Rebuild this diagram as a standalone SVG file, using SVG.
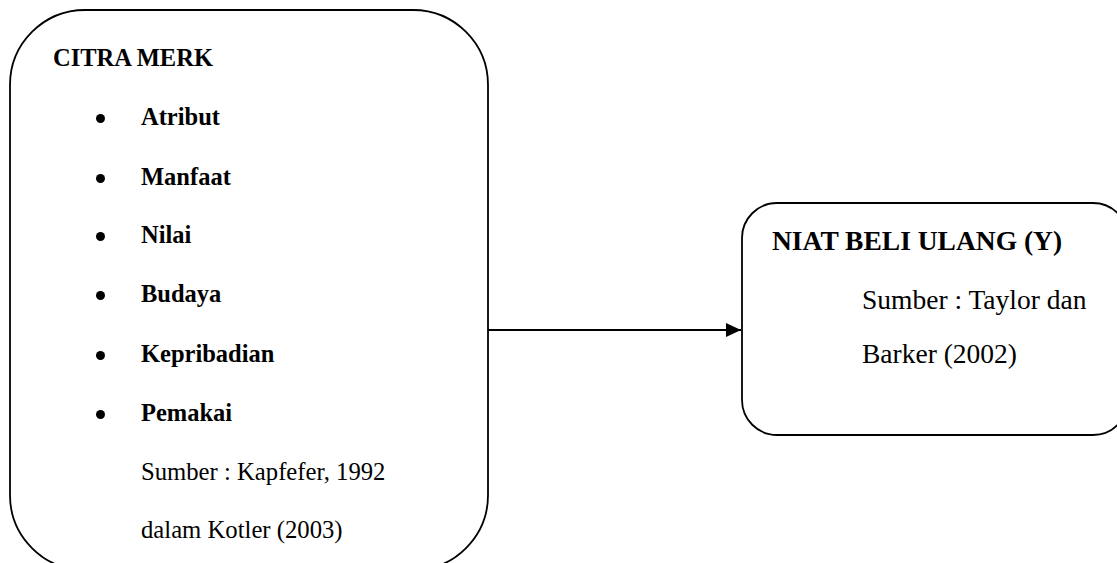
<svg xmlns="http://www.w3.org/2000/svg" width="1117" height="563" viewBox="0 0 1117 563">
<style>
.box{fill:#fff;stroke:#000;stroke-width:1.8}
.b{font-family:"Liberation Serif","Times New Roman",serif;font-weight:bold;fill:#000}
.r{font-family:"Liberation Serif","Times New Roman",serif;fill:#000}
.l{font-size:24.5px}
.rt{font-size:27.5px}
.conn{stroke:#000;stroke-width:1.8;fill:none}
</style>
<defs>
<marker id="arr" markerUnits="userSpaceOnUse" markerWidth="16" markerHeight="14" refX="15" refY="7" orient="auto">
<path d="M0,0 L15,7 L0,14 Z" fill="#000"/>
</marker>
</defs>
<rect width="1117" height="563" fill="#fff"/>
<g id="connectors">
<line class="conn" x1="488" y1="330" x2="741" y2="330" marker-end="url(#arr)"/>
</g>
<g id="citra-merk">
<rect class="box" x="10" y="10" width="478" height="560" rx="75" ry="75"/>
<text class="b l" x="53" y="66">CITRA MERK</text>
<g fill="#000">
<circle cx="100.5" cy="118.5" r="4.5"/>
<circle cx="100.5" cy="178.5" r="4.5"/>
<circle cx="100.5" cy="236.5" r="4.5"/>
<circle cx="100.5" cy="295.5" r="4.5"/>
<circle cx="100.5" cy="355.5" r="4.5"/>
<circle cx="100.5" cy="414.5" r="4.5"/>
</g>
<text class="b l" x="141" y="125">Atribut</text>
<text class="b l" x="141" y="185">Manfaat</text>
<text class="b l" x="141" y="243">Nilai</text>
<text class="b l" x="141" y="302">Budaya</text>
<text class="b l" x="141" y="362">Kepribadian</text>
<text class="b l" x="141" y="421">Pemakai</text>
<text class="r" font-size="24.7" x="141" y="480">Sumber : Kapfefer, 1992</text>
<text class="r" font-size="24.7" x="141" y="538">dalam Kotler (2003)</text>
</g>
<g id="niat-beli-ulang">
<rect class="box" x="742" y="203" width="386" height="232" rx="35" ry="35"/>
<text class="b rt" x="772" y="250">NIAT BELI ULANG (Y)</text>
<text class="r rt" x="862" y="309">Sumber : Taylor dan</text>
<text class="r rt" x="862" y="363">Barker (2002)</text>
</g>
</svg>
